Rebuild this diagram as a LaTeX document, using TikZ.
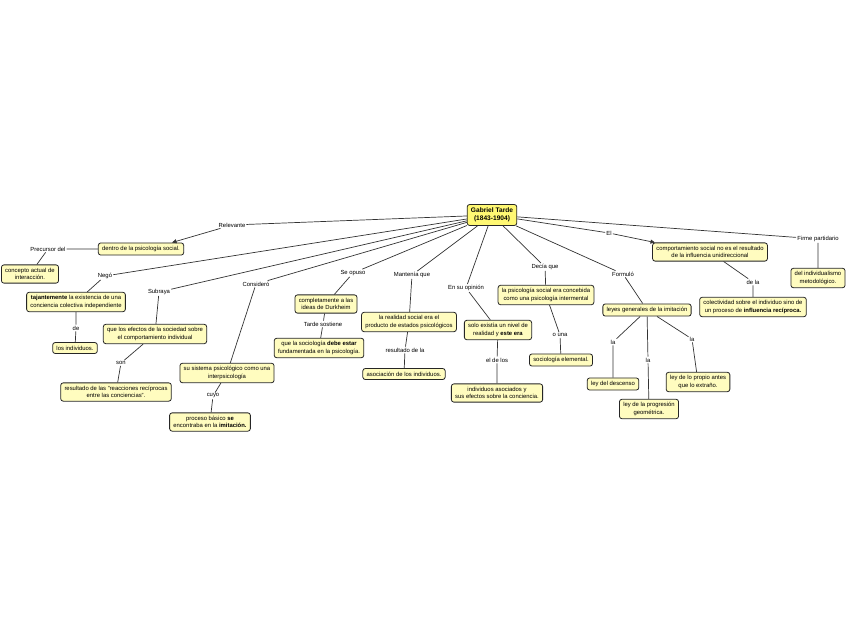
\documentclass[tikz,border=0pt]{standalone}
\usepackage{fontspec}
\setmainfont{Liberation Sans}
\usetikzlibrary{arrows.meta}
\begin{document}
\begin{tikzpicture}[x=1pt,y=-1pt,
  concept/.style={draw=black!85,line width=0.8pt,fill=yellow!25,rounded corners=2.5pt,
    align=center,inner xsep=3.8pt,inner ysep=3.3pt,font=\fontsize{5.9}{7.3}\selectfont},
  root/.style={concept,fill=yellow!55,inner ysep=3.5pt,font=\fontsize{6.6}{7.8}\selectfont\bfseries},
  lbl/.style={inner sep=1pt,font=\fontsize{5.9}{7}\selectfont},
  link/.style={draw=black!80,line width=0.7pt},
  arr/.style={link,-{Triangle[length=4.5pt,width=4pt]}}
]
\useasboundingbox (0,0) rectangle (848,638);
\fill[white] (0,0) rectangle (848,638);

% nodes
\node[root] (T) at (492,215) {Gabriel Tarde\\(1843-1904)};

\node[lbl] (relev) at (232,225) {Relevante};
\node[concept] (dentro) at (141,249) {dentro de la psicología social.};
\node[lbl] (precur) at (48,249) {Precursor del};
\node[concept] (concepto) at (30,274) {concepto actual de\\interacción.};

\node[lbl] (nego) at (105,276) {Negó};
\node[concept] (tajante) at (76,302) {\textbf{tajantemente} la existencia de una\\conciencia colectiva independiente};
\node[lbl] (de1) at (76,328) {de};
\node[concept] (losind) at (75,348) {los individuos.};

\node[lbl] (subraya) at (159,292) {Subraya};
\node[concept] (efectos) at (155,334) {que los efectos de la sociedad sobre\\el comportamiento individual};
\node[lbl] (son) at (121,363) {son};
\node[concept] (reacc) at (116,392) {resultado de las "reacciones recíprocas\\entre las conciencias".};

\node[lbl] (consid) at (256,284) {Consideró};
\node[concept] (sistema) at (227,373) {su sistema psicológico como una\\interpsicología};
\node[lbl] (cuyo) at (213,396) {cuyo};
\node[concept] (proceso) at (210,422) {proceso básico \textbf{se}\\encontraba en la \textbf{imitación.}};

\node[lbl] (seop) at (353,273) {Se opuso};
\node[concept] (complet) at (326,304) {completamente a las\\ideas de Durkheim};
\node[lbl] (tsost) at (323,324) {Tarde sostiene};
\node[concept] (socdebe) at (319,348) {que la sociología \textbf{debe estar}\\fundamentada en la psicología.};

\node[lbl] (mant) at (412,275) {Mantenía que};
\node[concept] (realidad) at (409,322) {la realidad social era el\\producto de estados psicológicos};
\node[lbl] (resdela) at (405,350) {resultado de la};
\node[concept] (asoc) at (404,374) {asociación de los individuos.};

\node[lbl] (ensu) at (466,288) {En su opinión};
\node[concept] (solo) at (498,330) {solo existía un nivel de\\realidad y \textbf{este era}};
\node[lbl] (eldelos) at (497,360) {el de los};
\node[concept] (indasoc) at (497,393) {individuos asociados y\\sus efectos sobre la conciencia.};

\node[lbl] (decia) at (545,267) {Decía que};
\node[concept] (psisoc) at (546,295) {la psicología social era concebida\\como una psicología intermental};
\node[lbl] (ouna) at (560,335) {o una};
\node[concept] (socelem) at (561,360) {sociología elemental.};

\node[lbl] (el) at (609,233) {El};
\node[concept] (comport) at (710,252) {comportamiento social no es el resultado\\de la influencia unidireccional};
\node[lbl] (dela) at (753,282) {de la};
\node[concept] (colect) at (753,307) {colectividad sobre el individuo sino de\\un proceso de \textbf{influencia recíproca.}};

\node[lbl] (firme) at (818,239) {Firme partidario};
\node[concept] (indiv) at (818,278) {del individualismo\\metodológico.};

\node[lbl] (formulo) at (623,274) {Formuló};
\node[concept] (leyes) at (647,310) {leyes generales de la imitación};
\node[lbl] (la1) at (613,342) {la};
\node[concept] (descenso) at (613,384) {ley del descenso};
\node[lbl] (la2) at (648,360) {la};
\node[concept] (progres) at (649,409) {ley de la progresión\\geométrica.};
\node[lbl] (la3) at (692,339) {la};
\node[concept] (propio) at (698,382) {ley de lo propio antes\\que lo extraño.};

% connectors
\draw[link] (T) -- (relev);
\draw[arr] (relev) -- ([xshift=31pt]dentro.north);
\draw[link] (dentro) -- (precur) -- (concepto);

\draw[link] (T) -- (nego) -- (tajante);
\draw[link] (tajante) -- (de1) -- (losind);

\draw[link] (T) -- (subraya) -- (efectos);
\draw[link] (efectos) -- (son) -- (reacc);

\draw[link] (T) -- (consid) -- (sistema);
\draw[link] (sistema) -- (cuyo) -- (proceso);

\draw[link] (T) -- (seop) -- (complet);
\draw[link] (complet) -- (tsost) -- (socdebe);

\draw[link] (T) -- (mant) -- (realidad);
\draw[link] (realidad) -- (resdela) -- (asoc);

\draw[link] (T) -- (ensu) -- (solo);
\draw[link] (solo) -- (eldelos) -- (indasoc);

\draw[link] (T) -- (decia) -- (psisoc);
\draw[link] (psisoc) -- (ouna) -- (socelem);

\draw[link] (T) -- (el);
\draw[arr] (el) -- ([xshift=-55pt]comport.north);
\draw[link] (comport) -- (dela) -- (colect);

\draw[link] (T) -- (firme) -- (indiv);

\draw[link] (T) -- (formulo) -- (leyes);
\draw[link] (leyes) -- (la1) -- (descenso);
\draw[link] (leyes) -- (la2) -- (progres);
\draw[link] (leyes) -- (la3) -- (propio);
\end{tikzpicture}
\end{document}
